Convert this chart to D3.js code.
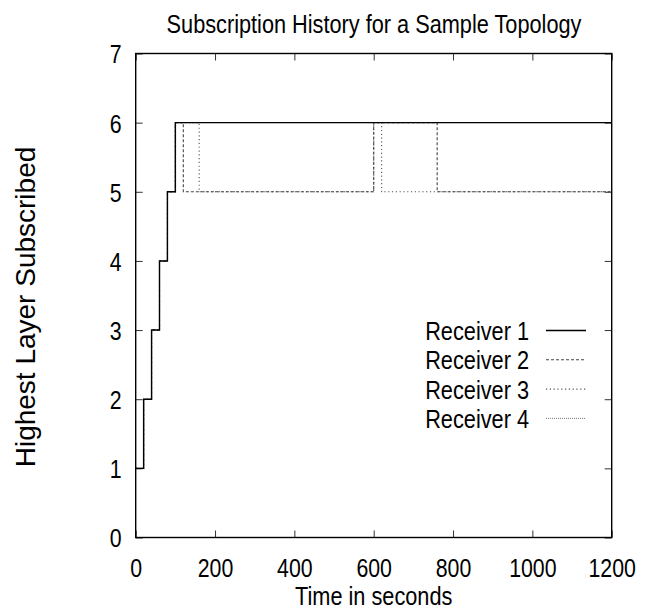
<!DOCTYPE html>
<html><head><meta charset="utf-8">
<script src="https://cdn.jsdelivr.net/npm/d3@7"></script>
<style>
html,body{margin:0;padding:0;background:#fff;}
svg text{font-family:"Liberation Sans",Arial,sans-serif;fill:#000;}
</style></head>
<body><svg id="chart" width="646" height="611"></svg>
<script>
const title = "Subscription History for a Sample Topology";
const xLabel = "Time in seconds";
const yLabel = "Highest Layer Subscribed";
const xTicks = [0,200,400,600,800,1000,1200];
const yTicks = [0,1,2,3,4,5,6,7];
const receivers = ["Receiver 1","Receiver 2","Receiver 3","Receiver 4"];
const r1Times  = [0,20,40,60,80,100,1200];
const r1Levels = [1,2,3,4,5,6,6];
const r2Times  = [0,20,40,60,80,100,120,600,760,1200];
const r2Levels = [1,2,3,4,5,6,5,6,5,5];
const r3Times  = [0,20,40,60,80,100,160,600,620,1200];
const r3Levels = [1,2,3,4,5,6,5,6,5,5];
const r4Times  = [0,20,40,60,80,100,1200];
const r4Levels = [1,2,3,4,5,6,6];

const seriesTimes = [r1Times,r2Times,r3Times,r4Times];
const seriesLevels = [r1Levels,r2Levels,r3Levels,r4Levels];
const styles = [
  {stroke:"#000", width:1.4, dash:null},
  {stroke:"#444", width:1.1, dash:"3,2"},
  {stroke:"#555", width:1.1, dash:"1.2,2.6"},
  {stroke:"#777", width:1.0, dash:"1,1"}
];
const NARROW = 0.82;
function narrow(sel){
  sel.each(function(){
    const t = d3.select(this);
    const ax = +(t.attr("x")||0), ay = +(t.attr("y")||0);
    t.attr("transform",`translate(${ax},${ay}) scale(${NARROW},1) translate(${-ax},${-ay})`);
  });
}

const svg = d3.select("#chart");
const L = 135.7, R = 611.7, T = 53.5, B = 537.5;
const x = d3.scaleLinear().domain([0,1200]).range([L,R]);
const y = d3.scaleLinear().domain([0,7]).range([B,T]);

const tk = 7;
function styleAxis(g){ g.select(".domain").remove(); g.selectAll(".tick line").attr("stroke","#333").attr("stroke-width",1); }
svg.append("g").attr("transform",`translate(0,${B})`)
  .call(d3.axisBottom(x).tickValues(xTicks).tickSize(-tk).tickPadding(24).tickFormat(d3.format("d")))
  .call(styleAxis)
  .selectAll("text").attr("font-size",26).attr("font-family",null).attr("dy",null).attr("y",39.5).call(narrow);
svg.append("g").attr("transform",`translate(0,${T})`)
  .call(d3.axisTop(x).tickValues(xTicks).tickSize(-tk).tickFormat(""))
  .call(styleAxis);
svg.append("g").attr("transform",`translate(${L},0)`)
  .call(d3.axisLeft(y).tickValues(yTicks).tickSize(-tk).tickPadding(14).tickFormat(d3.format("d")))
  .call(styleAxis)
  .selectAll("text").attr("font-size",26).attr("font-family",null).attr("x",-14).attr("dy","0.36em").call(narrow);
svg.append("g").attr("transform",`translate(${R},0)`)
  .call(d3.axisRight(y).tickValues(yTicks).tickSize(-tk).tickFormat(""))
  .call(styleAxis);

const line = d3.line().x(d=>x(d[0])).y(d=>y(d[1])).curve(d3.curveStepAfter);
[3,2,1,0].forEach(i=>{
  const pts = seriesTimes[i].map((t,j)=>[t,seriesLevels[i][j]]);
  const s = styles[i];
  svg.append("path").datum(pts).attr("d",line).attr("fill","none")
    .attr("stroke",s.stroke).attr("stroke-width",s.width)
    .attr("stroke-dasharray",s.dash);
});

svg.append("rect").attr("x",L).attr("y",T).attr("width",R-L).attr("height",B-T)
  .attr("fill","none").attr("stroke","#000").attr("stroke-width",1.4);

const legY0 = 330.5, legDy = 29.3;
const leg = svg.append("g");
receivers.forEach((name,i)=>{
  const yy = legY0 + i*legDy;
  leg.append("text").attr("x",529).attr("y",yy).attr("dy","0.36em")
    .attr("text-anchor","end").attr("font-size",26.5).text(name).call(narrow);
  const s = styles[i];
  leg.append("line").attr("x1",546).attr("x2",586).attr("y1",yy).attr("y2",yy)
    .attr("stroke",s.stroke).attr("stroke-width",s.width).attr("stroke-dasharray",s.dash);
});

svg.append("text").attr("x",374).attr("y",33).attr("text-anchor","middle")
  .attr("font-size",26.5).text(title).call(narrow);
svg.append("text").attr("x",(L+R)/2).attr("y",605).attr("text-anchor","middle")
  .attr("font-size",26.5).text(xLabel).call(narrow);
svg.append("text").attr("transform","translate(35,307) rotate(-90)").attr("text-anchor","middle")
  .attr("font-size",28).text(yLabel);
</script></body></html>
